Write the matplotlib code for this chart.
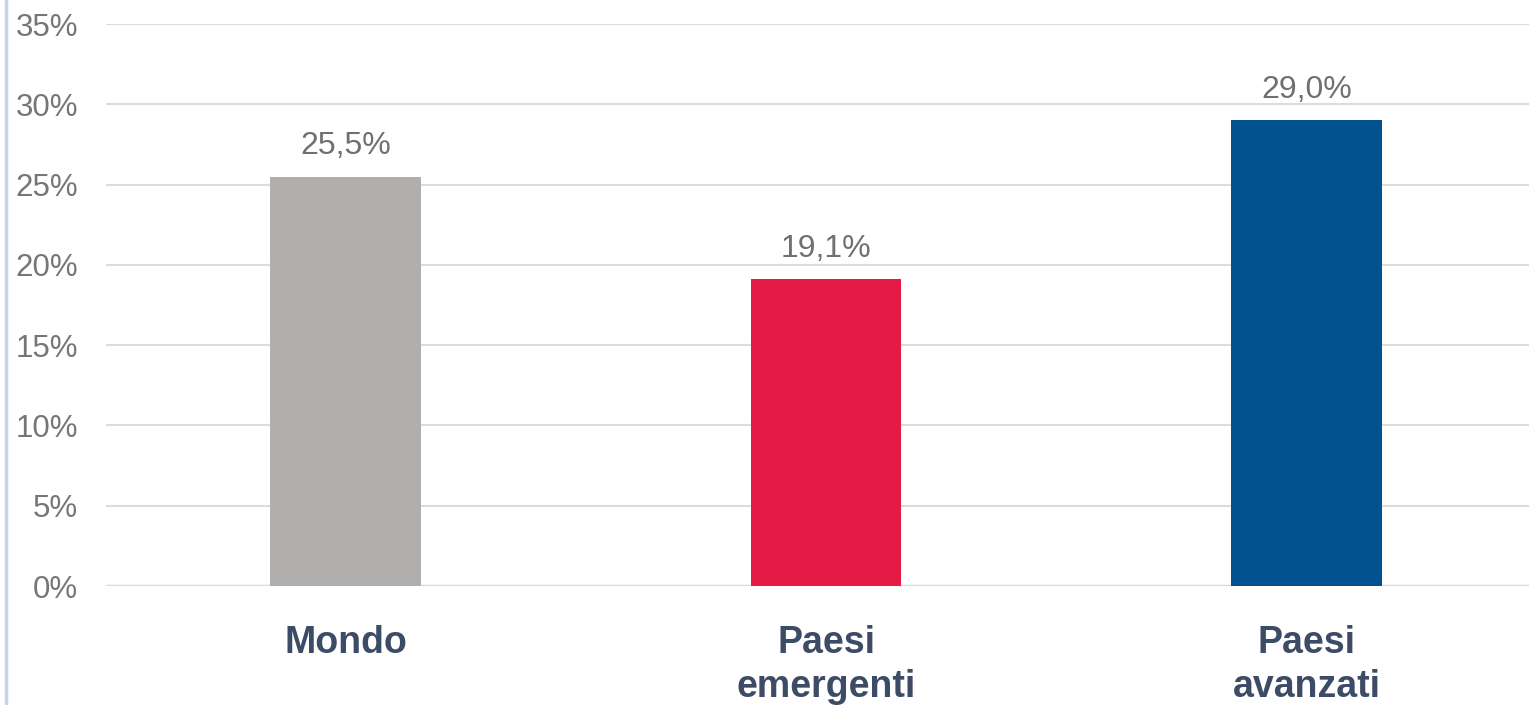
import matplotlib.pyplot as plt
from matplotlib.lines import Line2D

categories = ["Mondo", "Paesi\nemergenti", "Paesi\navanzati"]
values = [25.5, 19.1, 29.0]
bar_colors = ["#B0AFAD", "#E61B45", "#00518E"]
yticks = [0, 5, 10, 15, 20, 25, 30, 35]

plt.rcParams['font.family'] = ['Liberation Sans', 'DejaVu Sans']

fig = plt.figure(figsize=(15.29, 7.05), dpi=100)
ax = fig.add_axes([106 / 1529, 119 / 705, 1 - 106 / 1529, 562 / 705])

x = list(range(len(categories)))
bars = ax.bar(x, values, width=0.314, color=bar_colors, zorder=3)

# value labels
for xi, v in zip(x, values):
    ax.annotate(f"{v:.1f}%".replace(".", ","), (xi, v), xytext=(0, 11),
                textcoords="offset points", ha="center", va="bottom",
                fontsize=23, color="#707070")

ax.set_ylim(0, 35)
ax.set_xlim(-0.4984, 2.463)
ax.set_yticks(yticks)
ax.set_yticklabels([f"{t}%" for t in yticks], fontsize=22.5, color="#767676")
ax.set_xticks(x)
ax.set_xticklabels(categories, fontsize=27, fontweight="bold", color="#3D4C66",
                   linespacing=1.3)
ax.tick_params(axis="y", length=0, pad=20)
ax.tick_params(axis="x", length=0, pad=28)

ax.grid(axis="y", color="#DCDCDC", linewidth=1.5, zorder=0)
for s in ax.spines.values():
    s.set_visible(False)
ax.axhline(0, color="#DCDCDC", linewidth=2.5, zorder=1)

# light blue frame line at left edge
fig.add_artist(Line2D([5.5 / 1529, 5.5 / 1529], [0, 1], transform=fig.transFigure,
                      color="#C5D5EE", linewidth=2.5))

fig.savefig("out.png", dpi=100)
